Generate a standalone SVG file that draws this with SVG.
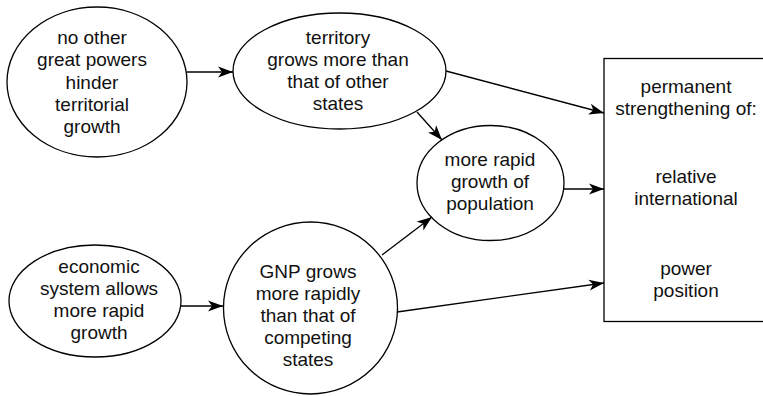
<svg xmlns="http://www.w3.org/2000/svg" width="763" height="396" viewBox="0 0 763 396">
<style>
.n{fill:#fff;stroke:#000;stroke-width:1.3}
.t{font-family:"Liberation Sans",Arial,Helvetica,sans-serif;font-size:19px;fill:#111;text-anchor:middle}
.c{fill:none;stroke:#000;stroke-width:1.3;marker-end:url(#ah)}
</style>
<defs>
<marker id="ah" markerUnits="userSpaceOnUse" markerWidth="16" markerHeight="12" refX="15" refY="5.5" orient="auto" viewBox="0 0 16 11">
<path d="M0,0 L15,5.5 L0,11 L4,5.5 z" fill="#000"/>
</marker>
</defs>
<g id="n1">
<ellipse class="n" cx="97" cy="82" rx="90" ry="75"/>
<text class="t" x="92"><tspan x="92" y="44">no other</tspan><tspan x="92" y="66">great powers</tspan><tspan x="92" y="88.5">hinder</tspan><tspan x="92" y="111">territorial</tspan><tspan x="92" y="133">growth</tspan></text>
</g>
<g id="n2">
<ellipse class="n" cx="339.5" cy="71" rx="106.5" ry="58"/>
<text class="t"><tspan x="338" y="44">territory</tspan><tspan x="338" y="66">grows more than</tspan><tspan x="338" y="88">that of other</tspan><tspan x="338" y="110">states</tspan></text>
</g>
<g id="n3">
<ellipse class="n" cx="490.5" cy="183" rx="73.5" ry="57.5"/>
<text class="t"><tspan x="490" y="166">more rapid</tspan><tspan x="490" y="188">growth of</tspan><tspan x="490" y="210">population</tspan></text>
</g>
<g id="n4">
<ellipse class="n" cx="95" cy="301" rx="86" ry="56"/>
<text class="t"><tspan x="99" y="273">economic</tspan><tspan x="99" y="295">system allows</tspan><tspan x="99" y="317">more rapid</tspan><tspan x="99" y="339">growth</tspan></text>
</g>
<g id="n5">
<ellipse class="n" cx="310.5" cy="308" rx="87" ry="86"/>
<text class="t"><tspan x="308" y="278">GNP grows</tspan><tspan x="308" y="300">more rapidly</tspan><tspan x="308" y="322">than that of</tspan><tspan x="308" y="344">competing</tspan><tspan x="308" y="366">states</tspan></text>
</g>
<g id="n6">
<rect class="n" x="604" y="58.5" width="170" height="263"/>
<text class="t"><tspan x="686" y="93">permanent</tspan><tspan x="686" y="115">strengthening of:</tspan><tspan x="686" y="183">relative</tspan><tspan x="686" y="205">international</tspan><tspan x="686" y="275">power</tspan><tspan x="686" y="297">position</tspan></text>
</g>
<g id="connectors">
<path class="c" d="M187,72 L233,72"/>
<path class="c" d="M181,306 L223,306"/>
<path class="c" d="M446,71 L604,113"/>
<path class="c" d="M417,112 L442,140"/>
<path class="c" d="M564,189 L604,189"/>
<path class="c" d="M382,255 L432,217"/>
<path class="c" d="M397,312 L604,283"/>
</g>
</svg>
